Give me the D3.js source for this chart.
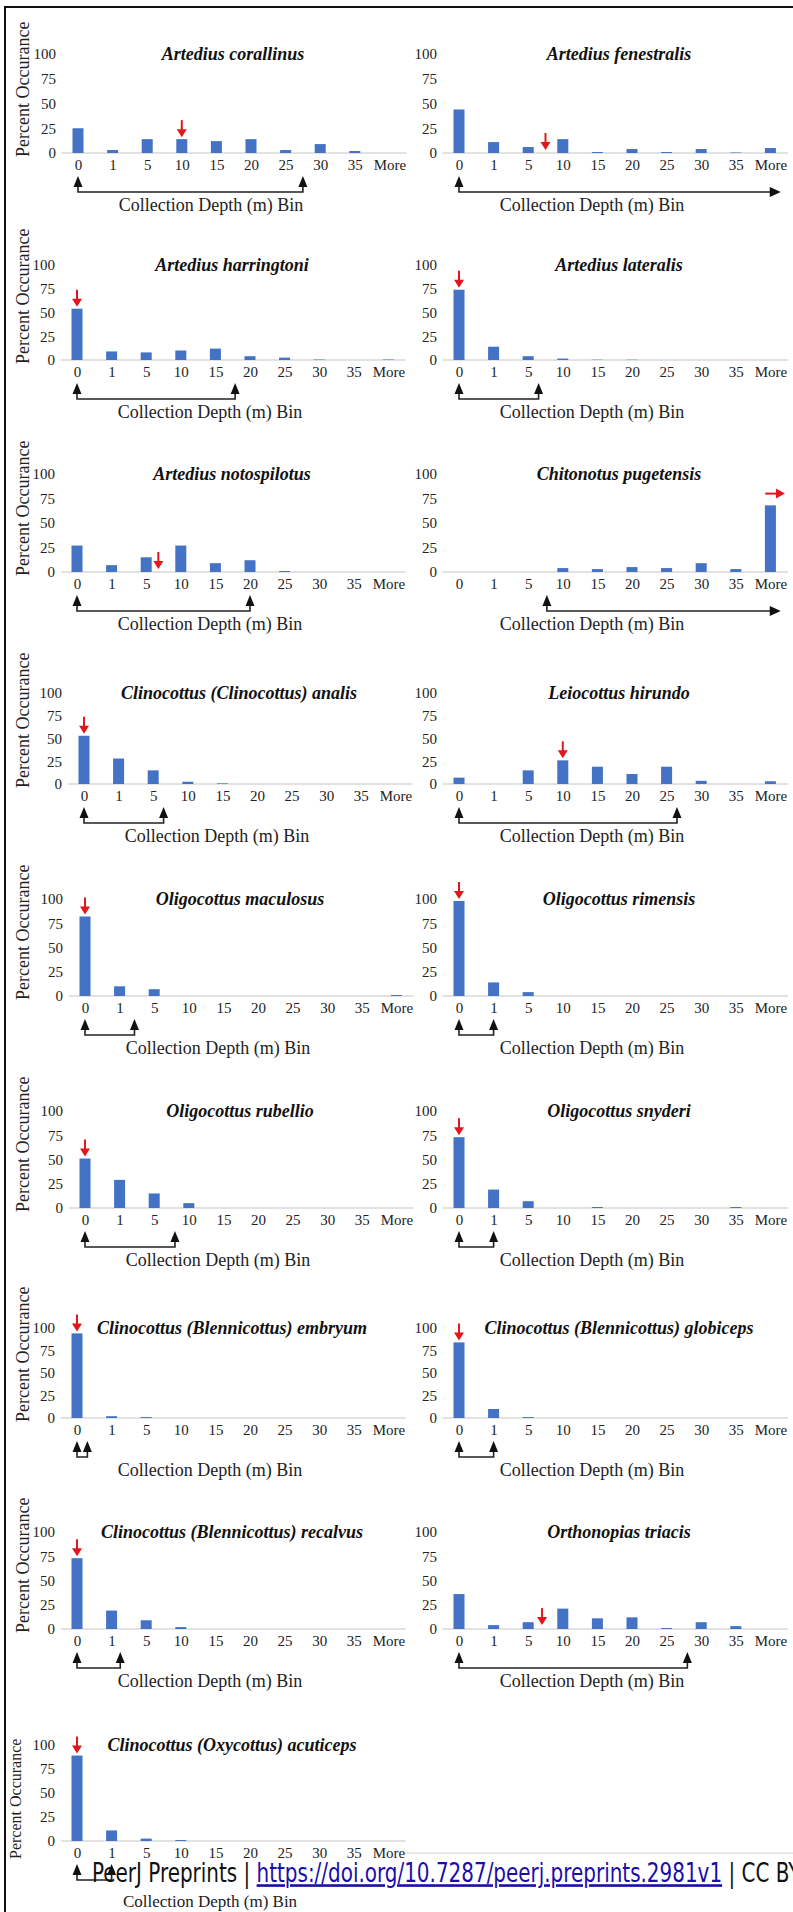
<!DOCTYPE html>
<html>
<head>
<meta charset="utf-8">
<script src="https://cdn.jsdelivr.net/npm/d3@7"></script>
<style>
body { margin: 0; background: #fff; }
svg { display: block; }
</style>
</head>
<body>
<svg id="chart" width="793" height="1912"></svg>
<script>
// depth bins shared by every panel
const bins = ["0", "1", "5", "10", "15", "20", "25", "30", "35", "More"];
const yTicks = [0, 25, 50, 75, 100];

const species = [
    "Artedius corallinus", "Artedius fenestralis",
    "Artedius harringtoni", "Artedius lateralis",
    "Artedius notospilotus", "Chitonotus pugetensis",
    "Clinocottus (Clinocottus) analis", "Leiocottus hirundo",
    "Oligocottus maculosus", "Oligocottus rimensis",
    "Oligocottus rubellio", "Oligocottus snyderi",
    "Clinocottus (Blennicottus) embryum", "Clinocottus (Blennicottus) globiceps",
    "Clinocottus (Blennicottus) recalvus", "Orthonopias triacis",
    "Clinocottus (Oxycottus) acuticeps"
];

// percent occurance per bin, one row per species
const percents = [
    [25, 3, 14, 14, 12, 14, 3, 9, 2, 0],
    [44, 11, 6, 14, 1, 4, 1, 4, 0.5, 5],
    [54, 9, 8, 10, 12, 4, 2.5, 0.5, 0, 0.5],
    [74, 14, 4, 1.5, 0.3, 0.3, 0, 0, 0, 0],
    [27, 7, 15, 27, 9, 12, 1, 0, 0, 0],
    [0, 0, 0, 4, 3, 5, 4, 9, 3, 68],
    [53, 28, 15, 2.5, 0.7, 0, 0, 0, 0, 0],
    [7, 0, 15, 26, 19, 11, 19, 3.5, 0, 3],
    [82, 10, 7, 0, 0, 0, 0, 0, 0, 1],
    [98, 14, 4, 0, 0, 0, 0, 0, 0, 0],
    [51, 29, 15, 5, 0, 0, 0, 0, 0, 0],
    [73, 19, 7, 0, 1, 0, 0, 0, 1, 0],
    [94, 2, 1, 0, 0, 0, 0, 0, 0, 0],
    [84, 10, 1, 0, 0, 0, 0, 0, 0, 0],
    [73, 19, 9, 2, 0, 0, 0, 0, 0, 0],
    [36, 4, 7, 21, 11, 12, 1, 7, 3, 0],
    [89, 11, 2.5, 1, 0, 0, 0, 0, 0, 0]
];

// red mode arrow: position in bin units, level (null = sits on the bar), direction
const modePos = [3, 2.5, 0, 0, 2.35, 9, 0, 3, 0, 0, 0, 0, 0, 0, 0, 2.4, 0];
const modeLevel = [null, 3, null, null, 3, 80, null, null, null, null, null, null, null, null, null, 4, null];
const modeDir = ["down", "down", "down", "down", "down", "right", "down", "down", "down",
    "down", "down", "down", "down", "down", "down", "down", "down"];

// black depth-range bracket under the axis (bin units)
const rangeStart = [0, 0, 0, 0, 0, 2.54, 0, 0, 0, 0, 0, 0, 0, 0, 0, 0, 0];
const rangeEnd = [6.5, 9.3, 4.57, 2.3, 5, 9.3, 2.3, 6.3, 1.43, 1, 2.6, 1, 0.3, 1, 1.25, 6.6, 1];
const rangeOpen = [false, true, false, false, false, true, false, false, false,
    false, false, false, false, false, false, false, false];

// layout of the 9 rows
const rowTop = [54, 265, 474, 693, 899, 1111, 1328, 1532, 1745];
const rowZero = [153, 360, 572, 784, 996, 1208, 1418, 1629, 1841];
const leftX0 = [78, 77, 77, 84, 85, 85, 77, 77, 77];
const rightX0 = 459;
const step = 34.6;
const barW = 11;
const blue = "#4472c4";
const red = "#e3161d";
const serif = "'Liberation Serif', 'Times New Roman', serif";

const svg = d3.select("#chart");
svg.append("rect").attr("width", 793).attr("height", 1912).attr("fill", "#fff");
svg.append("rect")
    .attr("x", 5).attr("y", 7).attr("width", 820).attr("height", 1940)
    .attr("fill", "none").attr("stroke", "#111").attr("stroke-width", 2);

species.forEach((name, i) => {
    const row = Math.floor(i / 2), col = i % 2;
    const last = row === 8;
    const x0 = col ? rightX0 : leftX0[row];
    const x = d3.scaleLinear().domain([0, 9]).range([x0, x0 + 9 * step]);
    const y = d3.scaleLinear().domain([0, 100]).range([rowZero[row], rowTop[row]]);
    const g = svg.append("g").attr("class", "panel");

    // baseline
    g.append("line")
        .attr("x1", x(-0.47)).attr("x2", x(9.5))
        .attr("y1", y(0)).attr("y2", y(0))
        .attr("stroke", "#d9d9d9").attr("stroke-width", 1.5);

    // bars
    g.selectAll(".bar")
        .data(percents[i])
        .enter().append("rect")
        .attr("class", "bar")
        .attr("x", (d, j) => x(j) - barW / 2)
        .attr("width", barW)
        .attr("y", d => y(d))
        .attr("height", d => y(0) - y(d))
        .attr("fill", blue);

    // x tick labels
    const xa = g.append("g")
        .attr("transform", `translate(0,${y(0)})`)
        .call(d3.axisBottom(x).tickValues(d3.range(10)).tickFormat(j => bins[j]).tickSize(0).tickPadding(6));
    xa.select(".domain").remove();
    xa.selectAll("text").attr("font-family", serif).attr("font-size", 15).attr("fill", "#222");

    // y tick labels
    const ya = g.append("g")
        .attr("transform", `translate(${x0 - 22},0)`)
        .call(d3.axisLeft(y).tickValues(yTicks).tickSize(0).tickPadding(0));
    ya.select(".domain").remove();
    ya.selectAll("text").attr("font-family", serif).attr("font-size", 15).attr("fill", "#222");

    // title
    g.append("text")
        .attr("x", x0 + (col ? 160 : 155))
        .attr("y", rowTop[row] + 6)
        .attr("text-anchor", "middle")
        .attr("font-family", serif)
        .attr("font-size", 18)
        .attr("font-weight", "bold")
        .attr("font-style", "italic")
        .attr("fill", "#111")
        .text(name);

    // x axis title
    g.append("text")
        .attr("x", x0 + 133)
        .attr("y", y(0) + (last ? 66 : 58))
        .attr("text-anchor", "middle")
        .attr("font-family", serif)
        .attr("font-size", last ? 17 : 18)
        .attr("fill", "#222")
        .text("Collection Depth (m) Bin");

    // y axis title (left column only)
    if (col === 0) {
        g.append("text")
            .attr("transform", `translate(${last ? 21 : 29},${y(0) + (last ? 18 : 4)}) rotate(-90)`)
            .attr("font-family", serif)
            .attr("font-size", last ? 16 : 18)
            .attr("fill", "#222")
            .text("Percent Occurance");
    }

    // red mode arrow
    const mx = x(modePos[i]);
    if (modeDir[i] === "down") {
        const tip = modeLevel[i] == null ? y(percents[i][modePos[i]]) - 2 : y(modeLevel[i]);
        g.append("line")
            .attr("x1", mx).attr("x2", mx)
            .attr("y1", tip - 17).attr("y2", tip - 5)
            .attr("stroke", red).attr("stroke-width", 2);
        g.append("path")
            .attr("d", `M${mx - 5},${tip - 8}L${mx + 5},${tip - 8}L${mx},${tip}Z`)
            .attr("fill", red);
    } else {
        const my = y(modeLevel[i]);
        const xs = x(modePos[i] - 0.15), xe = x(modePos[i] + 0.42);
        g.append("line")
            .attr("x1", xs).attr("x2", xe - 5)
            .attr("y1", my).attr("y2", my)
            .attr("stroke", red).attr("stroke-width", 2);
        g.append("path")
            .attr("d", `M${xe - 9},${my - 5}L${xe - 9},${my + 5}L${xe},${my}Z`)
            .attr("fill", red);
    }

    // depth range bracket
    const tipY = y(0) + 23, lineY = y(0) + 39;
    const xs = x(rangeStart[i]), xe = x(rangeEnd[i]);
    const upHead = px => `M${px - 4.5},${tipY + 11}L${px + 4.5},${tipY + 11}L${px},${tipY}Z`;
    g.append("path")
        .attr("d", `M${xs},${tipY + 9}V${lineY}H${rangeOpen[i] ? xe - 6 : xe}` + (rangeOpen[i] ? "" : `V${tipY + 9}`))
        .attr("fill", "none").attr("stroke", "#222").attr("stroke-width", 1.6);
    g.append("path").attr("d", upHead(xs)).attr("fill", "#111");
    if (rangeOpen[i]) {
        g.append("path")
            .attr("d", `M${xe - 11},${lineY - 5}L${xe - 11},${lineY + 5}L${xe},${lineY}Z`)
            .attr("fill", "#111");
    } else {
        g.append("path").attr("d", upHead(xe)).attr("fill", "#111");
    }
});

// footer strip
svg.append("line")
    .attr("x1", 405).attr("x2", 793)
    .attr("y1", 1853).attr("y2", 1853)
    .attr("stroke", "#cfcfcf").attr("stroke-width", 1);

const footer = svg.append("text")
    .attr("font-family", "'DejaVu Sans', sans-serif")
    .attr("font-size", 26)
    .attr("fill", "#111");
footer.append("tspan").text("PeerJ Preprints | ");
footer.append("tspan").attr("fill", "#1a0dab").attr("text-decoration", "underline")
    .text("https://doi.org/10.7287/peerj.preprints.2981v1");
footer.append("tspan").text(" | CC BY");
const fLen = footer.node().getComputedTextLength();
footer.attr("transform", `translate(92,1882) scale(${709 / fLen},1)`);
</script>
</body>
</html>
